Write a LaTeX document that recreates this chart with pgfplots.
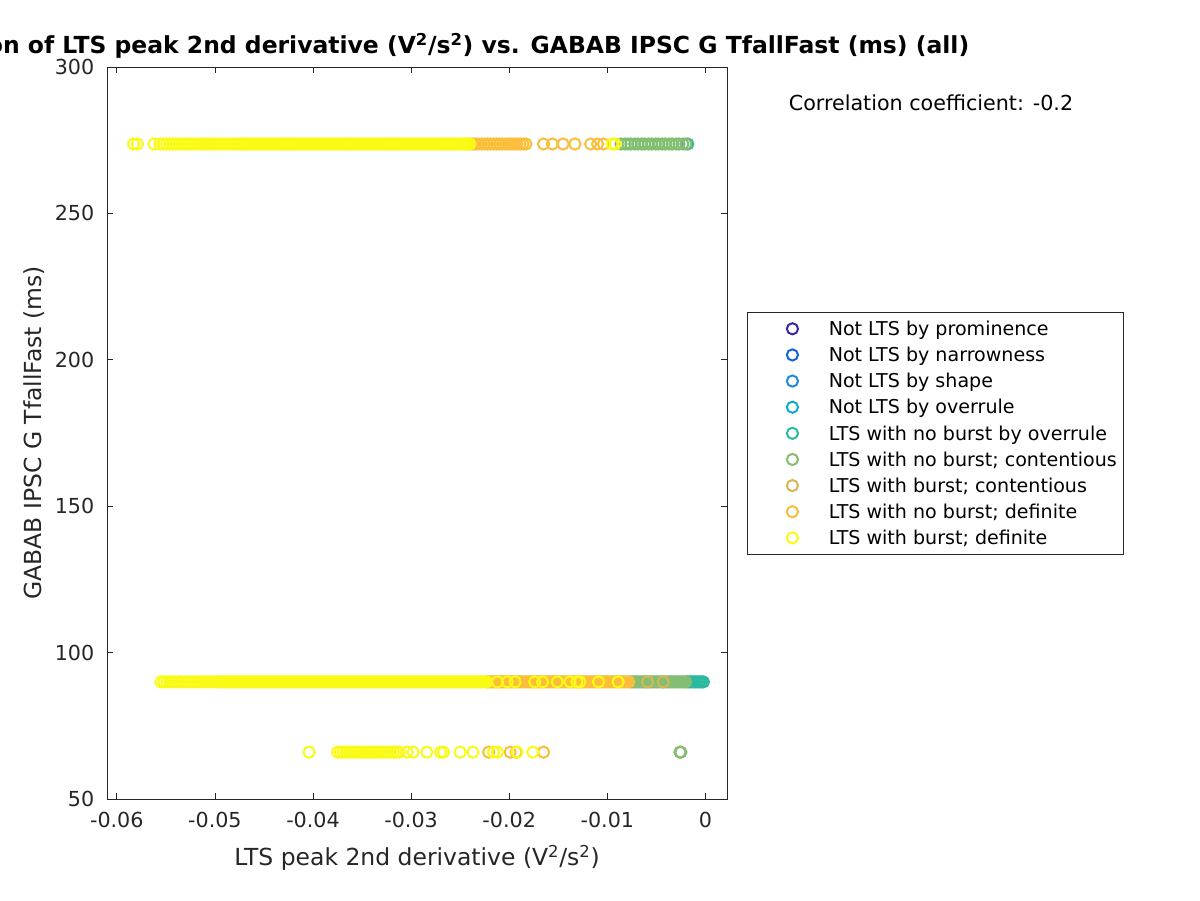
\documentclass[border=0pt]{standalone}
\usepackage{fontspec}
\setmainfont{DejaVu Sans}
\usepackage{pgfplots}
\pgfplotsset{compat=1.18}
\definecolor{c1}{RGB}{62,38,168}
\definecolor{c2}{RGB}{20,98,228}
\definecolor{c3}{RGB}{30,138,222}
\definecolor{c4}{RGB}{14,172,204}
\definecolor{c5}{RGB}{45,184,160}
\definecolor{c6}{RGB}{132,190,114}
\definecolor{c7}{RGB}{214,184,82}
\definecolor{c8}{RGB}{252,190,58}
\definecolor{c9}{RGB}{249,251,20}
\definecolor{axgray}{RGB}{38,38,38}
\begin{document}
\begin{tikzpicture}
\path[use as bounding box] (0,0) rectangle (900pt,675pt);
\begin{axis}[
  at={(80.25pt,75.75pt)}, anchor=south west,
  scale only axis, width=465pt, height=549pt,
  xmin=-0.0610, xmax=0.0022, ymin=50, ymax=300,
  scaled x ticks=false, scaled y ticks=false,
  xtick={-0.06,-0.05,-0.04,-0.03,-0.02,-0.01,0},
  xticklabels={-0.06,-0.05,-0.04,-0.03,-0.02,-0.01,0},
  ytick={50,100,150,200,250,300},
  yticklabels={50,100,150,200,250,300},
  axis line style={axgray, line width=0.6pt},
  tick style={axgray, line width=0.6pt},
  major tick length=4.5pt,
  tick label style={font=\fontsize{15.5}{18}\selectfont, text=axgray},
  xticklabel style={yshift=-6pt},
  yticklabel style={xshift=-6pt},
  xlabel={LTS peak 2nd derivative (V\textsuperscript{2}/s\textsuperscript{2})},
  ylabel={GABAB IPSC G TfallFast (ms)},
  label style={font=\fontsize{17.6}{21}\selectfont, text=axgray},
  xlabel style={at={(axis description cs:0.5,-0.0806)}, anchor=center},
  ylabel style={at={(axis description cs:-0.1177,0.5)}, anchor=center},
  title={Correlation of LTS peak 2nd derivative (V\textsuperscript{2}/s\textsuperscript{2}) vs. GABAB IPSC G TfallFast (ms) (all)},
  title style={at={(axis description cs:0.5,1.0177)}, anchor=center, xshift=2.5pt, font=\fontsize{17.6}{21}\selectfont\bfseries},
  legend style={at={(axis description cs:1.0323,0.6653)}, anchor=north west,
    draw=axgray, line width=0.6pt, font=\fontsize{14.3}{17}\selectfont,
    inner xsep=5pt, inner ysep=2.5pt, column sep=22pt,
    nodes={inner sep=0pt, text height=14.9pt, text depth=4.7pt}},
  legend cell align=left,
  legend image code/.code={\path[draw=none] (0pt,-1pt) (34pt,1pt); \draw[#1] plot[only marks] coordinates {(28.75pt,0pt)};},
  every axis plot/.append style={only marks, mark=o, mark size=4.2pt, line width=1.5pt},
  clip=false
]
\addlegendimage{only marks, mark=o, mark size=4.2pt, line width=1.5pt, c1}
\addlegendentry{Not LTS by prominence}
\addlegendimage{only marks, mark=o, mark size=4.2pt, line width=1.5pt, c2}
\addlegendentry{Not LTS by narrowness}
\addlegendimage{only marks, mark=o, mark size=4.2pt, line width=1.5pt, c3}
\addlegendentry{Not LTS by shape}
\addlegendimage{only marks, mark=o, mark size=4.2pt, line width=1.5pt, c4}
\addlegendentry{Not LTS by overrule}

% LTS with no burst by overrule
\addplot[c5] coordinates {
(-0.0018,273.7)
(-0.0018,90) (-0.0016,90) (-0.0014,90) (-0.0012,90) (-0.0010,90) (-0.0008,90) (-0.0006,90) (-0.0004,90) (-0.0002,90)
};
\addlegendentry{LTS with no burst by overrule}

% LTS with no burst; contentious
\addplot[c6] coordinates {
(-0.0086,273.7) (-0.0082,273.7) (-0.0079,273.7) (-0.0076,273.7) (-0.0072,273.7) (-0.0069,273.7) (-0.0065,273.7) (-0.0062,273.7) (-0.0058,273.7) (-0.0055,273.7)
(-0.0051,273.7) (-0.0048,273.7) (-0.0044,273.7) (-0.0041,273.7) (-0.0037,273.7) (-0.0034,273.7) (-0.0030,273.7) (-0.0027,273.7) (-0.0023,273.7) (-0.0020,273.7)
(-0.0076,90) (-0.0074,90) (-0.0072,90) (-0.0070,90) (-0.0068,90) (-0.0066,90) (-0.0064,90) (-0.0062,90) (-0.0060,90) (-0.0058,90)
(-0.0056,90) (-0.0054,90) (-0.0052,90) (-0.0050,90) (-0.0048,90) (-0.0046,90) (-0.0044,90) (-0.0042,90) (-0.0040,90) (-0.0038,90)
(-0.0036,90) (-0.0034,90) (-0.0032,90) (-0.0030,90) (-0.0028,90) (-0.0026,90) (-0.0024,90) (-0.0022,90) (-0.0020,90)
(-0.0026,66) (-0.0025,66)
};
\addlegendentry{LTS with no burst; contentious}

% LTS with burst; contentious
\addplot[c7] coordinates {
(-0.0059,90) (-0.0043,90)
};
\addlegendentry{LTS with burst; contentious}

% LTS with no burst; definite
\addplot[c8] coordinates {
(-0.0240,273.7) (-0.0237,273.7) (-0.0234,273.7) (-0.0231,273.7) (-0.0228,273.7) (-0.0225,273.7) (-0.0222,273.7) (-0.0219,273.7) (-0.0216,273.7) (-0.0213,273.7)
(-0.0210,273.7) (-0.0207,273.7) (-0.0204,273.7) (-0.0201,273.7) (-0.0198,273.7) (-0.0195,273.7) (-0.0192,273.7) (-0.0189,273.7) (-0.0186,273.7) (-0.0183,273.7)
(-0.0165,273.7) (-0.0156,273.7) (-0.0145,273.7) (-0.0133,273.7) (-0.0117,273.7) (-0.0110,273.7) (-0.0104,273.7)
(-0.0222,90) (-0.0220,90) (-0.0218,90) (-0.0216,90) (-0.0214,90) (-0.0212,90) (-0.0210,90) (-0.0208,90) (-0.0206,90) (-0.0204,90)
(-0.0202,90) (-0.0200,90) (-0.0198,90) (-0.0196,90) (-0.0194,90) (-0.0192,90) (-0.0190,90) (-0.0188,90) (-0.0186,90) (-0.0184,90)
(-0.0182,90) (-0.0180,90) (-0.0178,90) (-0.0176,90) (-0.0174,90) (-0.0172,90) (-0.0170,90) (-0.0168,90) (-0.0166,90) (-0.0164,90)
(-0.0162,90) (-0.0160,90) (-0.0158,90) (-0.0156,90) (-0.0154,90) (-0.0152,90) (-0.0150,90) (-0.0148,90) (-0.0146,90) (-0.0144,90)
(-0.0142,90) (-0.0140,90) (-0.0138,90) (-0.0136,90) (-0.0134,90) (-0.0132,90) (-0.0130,90) (-0.0128,90) (-0.0126,90) (-0.0124,90)
(-0.0122,90) (-0.0120,90) (-0.0118,90) (-0.0116,90) (-0.0114,90) (-0.0112,90) (-0.0110,90) (-0.0108,90) (-0.0106,90) (-0.0104,90)
(-0.0102,90) (-0.0100,90) (-0.0098,90) (-0.0096,90) (-0.0094,90) (-0.0092,90) (-0.0090,90) (-0.0088,90) (-0.0086,90) (-0.0084,90)
(-0.0082,90) (-0.0080,90) (-0.0078,90)
(-0.0221,66) (-0.0199,66) (-0.0193,66) (-0.0165,66)
};
\addlegendentry{LTS with no burst; definite}

% LTS with burst; definite
\addplot[c9] coordinates {
(-0.0583,273.7) (-0.0579,273.7) (-0.0562,273.7) (-0.0556,273.7) (-0.0553,273.7) (-0.0549,273.7) (-0.0546,273.7) (-0.0543,273.7) (-0.0540,273.7) (-0.0537,273.7)
(-0.0534,273.7) (-0.0531,273.7) (-0.0528,273.7) (-0.0525,273.7) (-0.0522,273.7) (-0.0519,273.7) (-0.0516,273.7) (-0.0513,273.7) (-0.0510,273.7) (-0.0507,273.7)
(-0.0504,273.7) (-0.0501,273.7) (-0.0498,273.7) (-0.0495,273.7) (-0.0492,273.7) (-0.0489,273.7) (-0.0486,273.7) (-0.0483,273.7) (-0.0480,273.7) (-0.0477,273.7)
(-0.0474,273.7) (-0.0472,273.7) (-0.0470,273.7) (-0.0468,273.7) (-0.0466,273.7) (-0.0464,273.7) (-0.0462,273.7) (-0.0460,273.7) (-0.0458,273.7) (-0.0456,273.7)
(-0.0454,273.7) (-0.0452,273.7) (-0.0450,273.7) (-0.0448,273.7) (-0.0446,273.7) (-0.0444,273.7) (-0.0442,273.7) (-0.0440,273.7) (-0.0438,273.7) (-0.0436,273.7)
(-0.0434,273.7) (-0.0432,273.7) (-0.0430,273.7) (-0.0428,273.7) (-0.0426,273.7) (-0.0424,273.7) (-0.0422,273.7) (-0.0420,273.7) (-0.0418,273.7) (-0.0416,273.7)
(-0.0414,273.7) (-0.0412,273.7) (-0.0410,273.7) (-0.0408,273.7) (-0.0406,273.7) (-0.0404,273.7) (-0.0402,273.7) (-0.0400,273.7) (-0.0398,273.7) (-0.0396,273.7)
(-0.0394,273.7) (-0.0392,273.7) (-0.0390,273.7) (-0.0388,273.7) (-0.0386,273.7) (-0.0384,273.7) (-0.0382,273.7) (-0.0380,273.7) (-0.0378,273.7) (-0.0376,273.7)
(-0.0374,273.7) (-0.0372,273.7) (-0.0370,273.7) (-0.0368,273.7) (-0.0366,273.7) (-0.0364,273.7) (-0.0362,273.7) (-0.0360,273.7) (-0.0358,273.7) (-0.0356,273.7)
(-0.0354,273.7) (-0.0352,273.7) (-0.0350,273.7) (-0.0348,273.7) (-0.0346,273.7) (-0.0344,273.7) (-0.0342,273.7) (-0.0340,273.7) (-0.0338,273.7) (-0.0336,273.7)
(-0.0334,273.7) (-0.0332,273.7) (-0.0330,273.7) (-0.0328,273.7) (-0.0326,273.7) (-0.0324,273.7) (-0.0322,273.7) (-0.0320,273.7) (-0.0318,273.7) (-0.0316,273.7)
(-0.0314,273.7) (-0.0312,273.7) (-0.0310,273.7) (-0.0308,273.7) (-0.0306,273.7) (-0.0304,273.7) (-0.0302,273.7) (-0.0300,273.7) (-0.0298,273.7) (-0.0296,273.7)
(-0.0294,273.7) (-0.0292,273.7) (-0.0290,273.7) (-0.0288,273.7) (-0.0286,273.7) (-0.0284,273.7) (-0.0282,273.7) (-0.0280,273.7) (-0.0278,273.7) (-0.0276,273.7)
(-0.0274,273.7) (-0.0272,273.7) (-0.0270,273.7) (-0.0268,273.7) (-0.0266,273.7) (-0.0264,273.7) (-0.0262,273.7) (-0.0260,273.7) (-0.0258,273.7) (-0.0256,273.7)
(-0.0254,273.7) (-0.0252,273.7) (-0.0250,273.7) (-0.0248,273.7) (-0.0246,273.7) (-0.0244,273.7) (-0.0242,273.7) (-0.0240,273.7)
(-0.0095,273.7) (-0.0092,273.7)
(-0.0555,90) (-0.0552,90) (-0.0549,90) (-0.0546,90) (-0.0543,90) (-0.0540,90) (-0.0537,90) (-0.0534,90)
(-0.0531,90) (-0.0528,90) (-0.0525,90) (-0.0522,90) (-0.0519,90) (-0.0516,90) (-0.0513,90) (-0.0510,90) (-0.0507,90) (-0.0504,90)
(-0.0501,90) (-0.0498,90) (-0.0495,90)
(-0.0493,90) (-0.0491,90) (-0.0489,90) (-0.0487,90) (-0.0485,90) (-0.0483,90) (-0.0481,90) (-0.0479,90) (-0.0477,90) (-0.0475,90)
(-0.0473,90) (-0.0471,90) (-0.0469,90) (-0.0467,90) (-0.0465,90) (-0.0463,90) (-0.0461,90) (-0.0459,90) (-0.0457,90) (-0.0455,90)
(-0.0453,90) (-0.0451,90) (-0.0449,90) (-0.0447,90) (-0.0445,90) (-0.0443,90) (-0.0441,90) (-0.0439,90) (-0.0437,90) (-0.0435,90)
(-0.0433,90) (-0.0431,90) (-0.0429,90) (-0.0427,90) (-0.0425,90) (-0.0423,90) (-0.0421,90) (-0.0419,90) (-0.0417,90) (-0.0415,90)
(-0.0413,90) (-0.0411,90) (-0.0409,90) (-0.0407,90) (-0.0405,90) (-0.0403,90) (-0.0401,90) (-0.0399,90) (-0.0397,90) (-0.0395,90)
(-0.0393,90) (-0.0391,90) (-0.0389,90) (-0.0387,90) (-0.0385,90) (-0.0383,90) (-0.0381,90) (-0.0379,90) (-0.0377,90) (-0.0375,90)
(-0.0373,90) (-0.0371,90) (-0.0369,90) (-0.0367,90) (-0.0365,90) (-0.0363,90) (-0.0361,90) (-0.0359,90) (-0.0357,90) (-0.0355,90)
(-0.0353,90) (-0.0351,90) (-0.0349,90) (-0.0347,90) (-0.0345,90) (-0.0343,90) (-0.0341,90) (-0.0339,90) (-0.0337,90) (-0.0335,90)
(-0.0333,90) (-0.0331,90) (-0.0329,90) (-0.0327,90) (-0.0325,90) (-0.0323,90) (-0.0321,90) (-0.0319,90) (-0.0317,90) (-0.0315,90)
(-0.0313,90) (-0.0311,90) (-0.0309,90) (-0.0307,90) (-0.0305,90) (-0.0303,90) (-0.0301,90) (-0.0299,90) (-0.0297,90) (-0.0295,90)
(-0.0293,90) (-0.0291,90) (-0.0289,90) (-0.0287,90) (-0.0285,90) (-0.0283,90) (-0.0281,90) (-0.0279,90) (-0.0277,90) (-0.0275,90)
(-0.0273,90) (-0.0271,90) (-0.0269,90) (-0.0267,90) (-0.0265,90) (-0.0263,90) (-0.0261,90) (-0.0259,90) (-0.0257,90) (-0.0255,90)
(-0.0253,90) (-0.0251,90) (-0.0249,90) (-0.0247,90) (-0.0245,90) (-0.0243,90) (-0.0241,90) (-0.0239,90) (-0.0237,90) (-0.0235,90)
(-0.0233,90) (-0.0231,90) (-0.0229,90) (-0.0227,90) (-0.0225,90) (-0.0223,90)
(-0.0212,90) (-0.0202,90) (-0.0194,90) (-0.0174,90) (-0.0166,90) (-0.0151,90) (-0.0138,90) (-0.0131,90) (-0.0128,90) (-0.0109,90) (-0.0089,90)
(-0.0404,66) (-0.0375,66) (-0.0372,66) (-0.0369,66) (-0.0366,66) (-0.0363,66) (-0.0360,66) (-0.0357,66) (-0.0354,66) (-0.0351,66)
(-0.0348,66) (-0.0345,66) (-0.0342,66) (-0.0339,66) (-0.0336,66) (-0.0333,66) (-0.0330,66) (-0.0327,66) (-0.0324,66) (-0.0321,66)
(-0.0318,66) (-0.0315,66) (-0.0312,66) (-0.0304,66) (-0.0298,66) (-0.0284,66) (-0.0270,66) (-0.0267,66) (-0.0250,66) (-0.0237,66)
(-0.0216,66) (-0.0212,66) (-0.0192,66) (-0.0176,66)
};
\addlegendentry{LTS with burst; definite}

\node[font=\fontsize{15.5}{18}\selectfont, anchor=center] at (rel axis cs:1.329,0.9508) {Correlation coefficient: -0.2};
\end{axis}
\end{tikzpicture}
\end{document}
